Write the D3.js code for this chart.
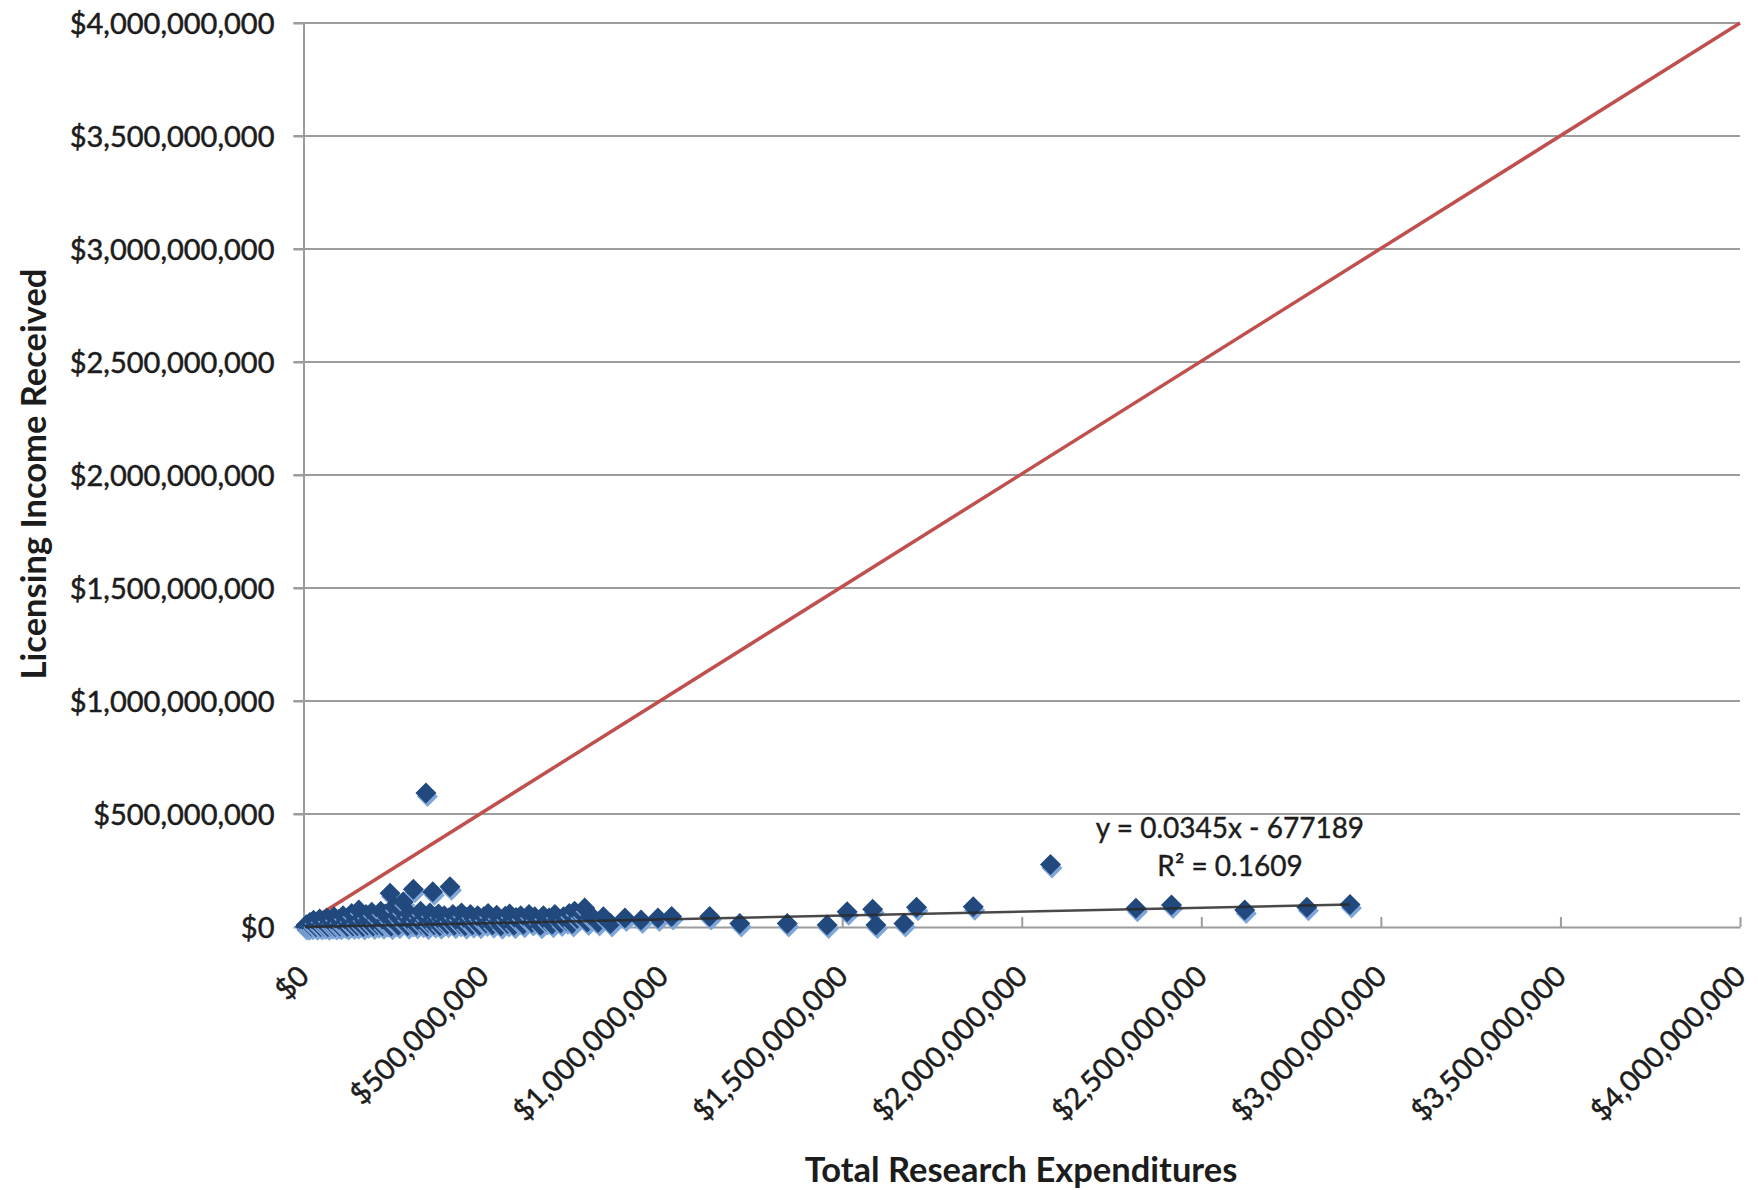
<!DOCTYPE html>
<html>
<head>
<meta charset="utf-8">
<script src="https://cdn.jsdelivr.net/npm/d3@7"></script>
<style>
  body { margin: 0; background: #fff; }
  .chart text { font-family: Lato, "Open Sans", sans-serif; fill: #1c1c1c; }
  .tick-label { font-size: 29px; stroke: #1c1c1c; stroke-width: 0.5px; }
  .axis-title { font-size: 34.5px; font-weight: bold; }
  .fit-label { font-size: 28px; stroke: #1c1c1c; stroke-width: 0.4px; }
</style>
</head>
<body>
<div class="chart"></div>
<script>

// Research expenditures vs licensing income, values in $ millions

var researchExp = [
  5, 8, 12, 15, 18, 22, 25, 28, 32, 35, 38, 42, 45, 48, 52, 55, 58, 62, 65, 68, 72, 75, 78, 82, 85, 88, 92, 95, 98,
  102, 105, 110, 114, 118, 122, 126, 130, 134, 138, 142, 146, 150, 154, 158, 162, 166, 170, 174, 178, 182, 186, 190, 194, 198,
  202, 206, 210, 215, 220, 224, 228, 232, 236, 241, 244, 248, 252, 256, 260, 264, 268, 272, 278, 282, 286, 290, 294, 298,
  302, 306, 310, 314, 318, 322, 326, 330, 334, 338, 341, 344, 348, 352, 356, 360, 364, 368, 372, 376, 380, 384, 388, 392, 396, 400,
  404, 408, 412, 416, 420, 425, 430, 435, 440, 445, 450, 455, 460, 465, 470, 475, 480, 485, 490, 495,
  502, 508, 514, 520, 526, 532, 538, 544, 550, 556, 562, 568, 574, 580, 586, 592, 598,
  605, 612, 620, 628, 636, 644, 652, 660, 668, 676, 684, 692, 700, 708, 716, 724, 732, 740, 748, 755, 762, 768, 775, 783, 790, 798,
  810, 820, 835, 855, 895, 940, 987, 1025,
  1131, 1215, 1347, 1458, 1514, 1585, 1594, 1672, 1707, 1865, 2080, 2318, 2417, 2621, 2794, 2914
];

var licensingIncome = [
  2, 10, 1, 5, 20, 3, 12, 30, 6, 1, 18, 8, 35, 2, 14, 25, 4, 9, 40, 1, 16, 28, 5, 11, 45, 2, 20, 7, 33,
  3, 15, 50, 8, 25, 2, 38, 12, 60, 4, 20, 30, 6, 75, 14, 42, 2, 22, 55, 9, 32, 18, 65, 4, 26,
  48, 10, 35, 70, 5, 20, 58, 14, 40, 149, 3, 28, 90, 18, 52, 8, 36, 75, 112, 22, 45, 5, 60, 30,
  15, 167, 40, 8, 55, 25, 70, 12, 35, 48, 593, 3, 20, 62, 30, 156, 10, 45, 25, 58, 6, 38, 18, 50, 28, 12,
  40, 178, 22, 55, 8, 32, 48, 15, 62, 28, 5, 42, 20, 55, 10, 35, 25, 50, 8, 30,
  45, 18, 60, 28, 10, 40, 52, 22, 6, 35, 48, 15, 58, 30, 8, 42, 25,
  50, 12, 38, 55, 20, 45, 30, 8, 50, 25, 40, 12, 55, 35, 18, 45, 28, 60, 15, 70, 38, 55, 60, 84, 22, 45,
  35, 20, 45, 15, 40, 31, 40, 46,
  46, 16, 16, 9, 68, 78, 9, 16, 87, 90, 277, 83, 97, 75, 87, 100
];

// reference line and linear fit shown on the chart
var refLineX = [13, 4000];
var refLineY = [23, 4000];
var trendSlope = 0.0345;
var trendIntercept = -677189;
var trendLabel = "y = 0.0345x - 677189";
var r2Label = "R² = 0.1609";

var xTicks = [0, 500e6, 1000e6, 1500e6, 2000e6, 2500e6, 3000e6, 3500e6, 4000e6];
var yTicks = [0, 500e6, 1000e6, 1500e6, 2000e6, 2500e6, 3000e6, 3500e6, 4000e6];

var xTitle = "Total Research Expenditures";
var yTitle = "Licensing Income Received";

// Set up a chart

var svgWidth = 1758;
var svgHeight = 1190;

var margin = {
  top: 23,
  right: 18,
  bottom: 263,
  left: 303.5
};

var width = svgWidth - margin.left - margin.right;
var height = svgHeight - margin.top - margin.bottom;

var svg = d3
  .select(".chart")
  .append("svg")
  .attr("width", svgWidth)
  .attr("height", svgHeight);

var chartGroup = svg.append("g")
  .attr("transform", `translate(${margin.left}, ${margin.top})`);

var points = d3.zip(researchExp, licensingIncome).map(d => ({ x: d[0] * 1e6, y: d[1] * 1e6 }));

var xLinearScale = d3.scaleLinear()
  .domain([0, 4000e6])
  .range([0, width]);

var yLinearScale = d3.scaleLinear()
  .domain([0, 4000e6])
  .range([height, 0]);

var money = d3.format("$,");

// gridlines
chartGroup.append("g")
  .selectAll("line")
  .data(yTicks.slice(1))
  .enter()
  .append("line")
  .attr("x1", -10)
  .attr("x2", width)
  .attr("y1", d => yLinearScale(d))
  .attr("y2", d => yLinearScale(d))
  .attr("stroke", "#9c9c9c")
  .attr("stroke-width", 2);

var leftAxis = d3.axisLeft(yLinearScale)
  .tickValues(yTicks)
  .tickFormat(money)
  .tickSizeInner(10)
  .tickSizeOuter(0)
  .tickPadding(19);

var yAxis = chartGroup.append("g")
  .classed("y-axis", true)
  .call(leftAxis);

var bottomAxis = d3.axisBottom(xLinearScale)
  .tickValues(xTicks)
  .tickFormat(money)
  .tickSizeInner(-10)
  .tickSizeOuter(0);

var xAxis = chartGroup.append("g")
  .classed("x-axis", true)
  .attr("transform", `translate(0, ${height})`)
  .call(bottomAxis);

chartGroup.selectAll(".y-axis path, .y-axis line, .x-axis path, .x-axis line")
  .attr("stroke", "#9c9c9c")
  .attr("stroke-width", 2);

yAxis.selectAll("text")
  .attr("class", "tick-label")
  .attr("dy", "0.35em");

xAxis.selectAll("text")
  .attr("class", "tick-label")
  .attr("text-anchor", "end")
  .attr("x", 0)
  .attr("y", 0)
  .attr("dy", 0)
  .attr("transform", "translate(7, 51) rotate(-45)");

yAxis.attr("font-size", null).attr("font-family", null);
xAxis.attr("font-size", null).attr("font-family", null);

// red reference line
chartGroup.append("line")
  .attr("x1", xLinearScale(refLineX[0] * 1e6))
  .attr("y1", yLinearScale(refLineY[0] * 1e6))
  .attr("x2", xLinearScale(refLineX[1] * 1e6))
  .attr("y2", yLinearScale(refLineY[1] * 1e6))
  .attr("stroke", "#c0504d")
  .attr("stroke-width", 3.5);

// markers: light shadow then dark diamond
var diamond = "M0,-10.5L10.5,0L0,10.5L-10.5,0Z";

var dataGroup = chartGroup.selectAll(".pt")
  .data(points)
  .enter()
  .append("g")
  .attr("class", "pt")
  .attr("transform", d => `translate(${xLinearScale(d.x)}, ${yLinearScale(d.y)})`);

dataGroup.append("path")
  .attr("d", diamond)
  .attr("transform", "translate(1.5, 3.5)")
  .attr("fill", "#7fa6d8");

dataGroup.append("path")
  .attr("d", diamond)
  .attr("fill", "#21497e");

// linear trendline
var xExtent = d3.extent(points, d => d.x);
chartGroup.append("line")
  .attr("x1", xLinearScale(xExtent[0]))
  .attr("y1", yLinearScale(trendSlope * xExtent[0] + trendIntercept))
  .attr("x2", xLinearScale(xExtent[1]))
  .attr("y2", yLinearScale(trendSlope * xExtent[1] + trendIntercept))
  .attr("stroke", "#2a2a2a")
  .attr("stroke-width", 2.5)
  .attr("opacity", 0.85);

// trendline labels
chartGroup.append("text")
  .attr("class", "fit-label")
  .attr("x", 1230 - margin.left)
  .attr("y", 838 - margin.top)
  .attr("text-anchor", "middle")
  .text(trendLabel);

chartGroup.append("text")
  .attr("class", "fit-label")
  .attr("x", 1230 - margin.left)
  .attr("y", 876 - margin.top)
  .attr("text-anchor", "middle")
  .text(r2Label);

// axis titles
svg.append("text")
  .attr("class", "axis-title")
  .attr("x", 1021)
  .attr("y", 1182)
  .attr("text-anchor", "middle")
  .text(xTitle);

svg.append("text")
  .attr("class", "axis-title")
  .attr("transform", "translate(46, 474) rotate(-90)")
  .attr("text-anchor", "middle")
  .text(yTitle);

</script>
</body>
</html>
